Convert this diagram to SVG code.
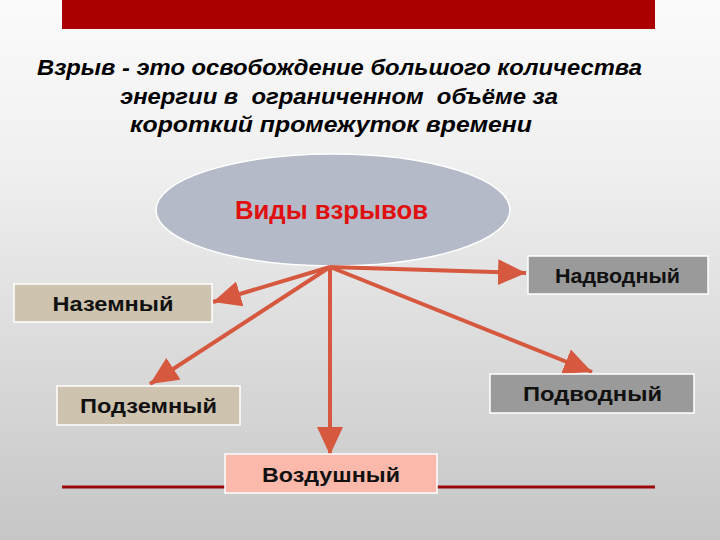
<svg xmlns="http://www.w3.org/2000/svg" width="720" height="540" viewBox="0 0 720 540">
<style>
.t{font-family:"Liberation Sans",Arial,sans-serif;font-weight:bold;fill:#111}
.h{font-family:"Liberation Sans",Arial,sans-serif;font-weight:bold;font-style:italic;font-size:22px;fill:#000;text-anchor:middle}
.lbl{font-size:21px;text-anchor:middle}
.box{stroke:#fff;stroke-width:1.5}
.tan{fill:#cdc3ae}
.grey{fill:#9a9a9a}
.pink{fill:#fbb9ac}
.arr{stroke:#d5583f;stroke-width:4;fill:none;marker-end:url(#ah)}
</style>
<defs>
<linearGradient id="bg" x1="0" y1="0" x2="0" y2="1">
<stop offset="0" stop-color="#fbfbfb"/>
<stop offset="0.3" stop-color="#f0f0f0"/>
<stop offset="1" stop-color="#c6c6c6"/>
</linearGradient>
<marker id="ah" markerUnits="userSpaceOnUse" markerWidth="30" markerHeight="26" refX="28" refY="13" orient="auto">
<path d="M0,0 L28,13 L0,26 Z" fill="#d5583f"/>
</marker>
</defs>
<rect width="720" height="540" fill="url(#bg)"/>
<rect x="62" y="0" width="593" height="29" fill="#aa0000"/>
<line x1="62" y1="487" x2="655" y2="487" stroke="#9b0a0a" stroke-width="3"/>
<text class="h" x="339.5" y="75" textLength="605" lengthAdjust="spacingAndGlyphs">Взрыв - это освобождение большого количества</text>
<text class="h" x="339" y="104" xml:space="preserve" textLength="438" lengthAdjust="spacingAndGlyphs">энергии в  ограниченном  объёме за</text>
<text class="h" x="331" y="132" textLength="402" lengthAdjust="spacingAndGlyphs">короткий промежуток времени</text>
<g id="center">
<ellipse cx="333" cy="210" rx="177" ry="56" fill="#b4bac8" stroke="#fff" stroke-width="1.5"/>
<text class="t" x="331.5" y="219" font-size="26" text-anchor="middle" style="fill:#e01010" textLength="193" lengthAdjust="spacingAndGlyphs">Виды взрывов</text>
</g>
<g id="connectors">
<line class="arr" x1="330" y1="267" x2="213" y2="302"/>
<line class="arr" x1="330" y1="267" x2="526" y2="273"/>
<line class="arr" x1="330" y1="267" x2="150" y2="384"/>
<line class="arr" x1="330" y1="267" x2="592" y2="372"/>
<line class="arr" x1="330" y1="267" x2="330" y2="455"/>
</g>
<g id="nazemny">
<rect class="box tan" x="14" y="284" width="198" height="38"/>
<text class="t lbl" x="113" y="311" textLength="121" lengthAdjust="spacingAndGlyphs">Наземный</text>
</g>
<g id="nadvodny">
<rect class="box grey" x="528" y="256" width="180" height="38"/>
<text class="t lbl" x="617.5" y="283" textLength="125" lengthAdjust="spacingAndGlyphs">Надводный</text>
</g>
<g id="podzemny">
<rect class="box tan" x="57" y="386" width="183" height="39"/>
<text class="t lbl" x="148.5" y="413" textLength="137" lengthAdjust="spacingAndGlyphs">Подземный</text>
</g>
<g id="podvodny">
<rect class="box grey" x="490" y="374" width="204" height="39"/>
<text class="t lbl" x="592.5" y="401" textLength="139" lengthAdjust="spacingAndGlyphs">Подводный</text>
</g>
<g id="vozdushny">
<rect class="box pink" x="225" y="454" width="212" height="39"/>
<text class="t lbl" x="331" y="482" textLength="138" lengthAdjust="spacingAndGlyphs">Воздушный</text>
</g>
</svg>
